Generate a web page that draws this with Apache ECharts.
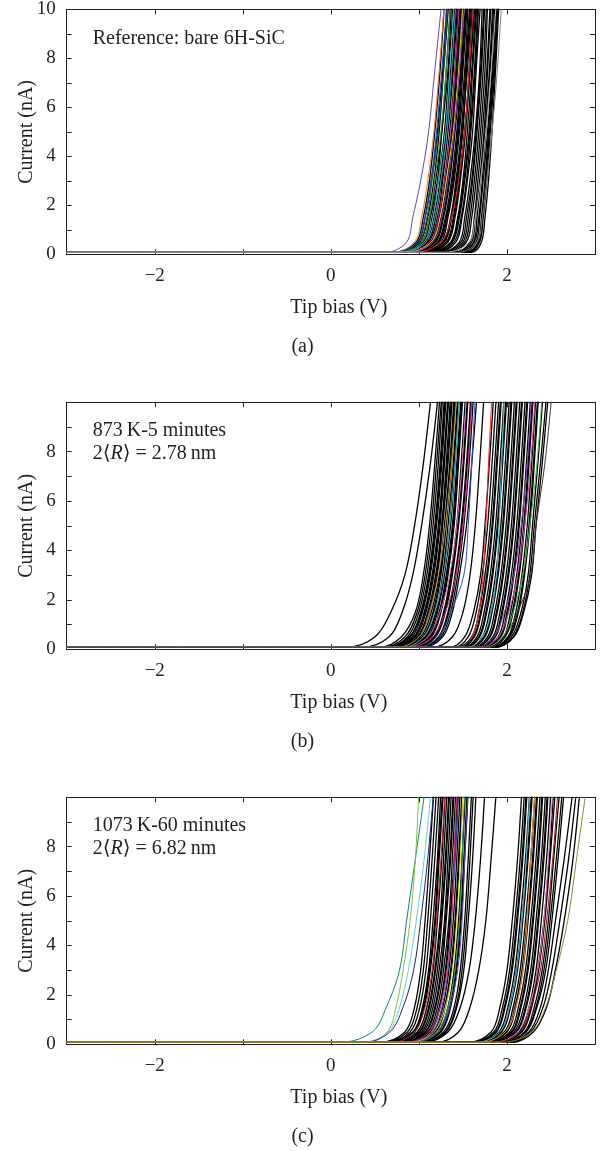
<!DOCTYPE html>
<html>
<head>
<meta charset="utf-8">
<script src="https://cdn.jsdelivr.net/npm/echarts@6/dist/echarts.min.js"></script>
<style>
  html, body { margin: 0; padding: 0; background: #fff; }
  #main { width: 605px; height: 1151px; }
</style>
</head>
<body>
<div id="main"></div>
<script>
const levels = [0.08, 0.5, 1.5, 3, 5, 7.5, 10.3]
const biasStart = -3
const xLabelValues = [-2, 0, 2]
const yLabelValues = [0, 2, 4, 6, 8, 10]

// panel (a): reference bare 6H-SiC
const aBlack = [
  [0.70, 0.97, 1.05, 1.12, 1.18, 1.24, 1.29],
  [0.73, 0.99, 1.07, 1.14, 1.21, 1.27, 1.32],
  [0.76, 1.01, 1.10, 1.17, 1.23, 1.28, 1.34],
  [0.75, 1.03, 1.12, 1.19, 1.26, 1.31, 1.36],
  [0.79, 1.05, 1.13, 1.21, 1.26, 1.33, 1.37],
  [0.81, 1.07, 1.15, 1.22, 1.29, 1.34, 1.39],
  [0.80, 1.08, 1.17, 1.24, 1.30, 1.36, 1.41],
  [0.83, 1.09, 1.18, 1.26, 1.31, 1.38, 1.42],
  [0.84, 1.10, 1.19, 1.25, 1.32, 1.37, 1.43],
  [0.86, 1.11, 1.21, 1.27, 1.33, 1.39, 1.44],
  [0.85, 1.13, 1.22, 1.29, 1.35, 1.41, 1.45],
  [0.89, 1.15, 1.23, 1.30, 1.37, 1.42, 1.47],
  [0.90, 1.16, 1.25, 1.32, 1.38, 1.43, 1.49],
  [0.91, 1.17, 1.26, 1.33, 1.39, 1.44, 1.48],
  [0.93, 1.18, 1.27, 1.34, 1.40, 1.45, 1.50],
  [0.92, 1.19, 1.28, 1.35, 1.41, 1.47, 1.51],
  [0.96, 1.21, 1.30, 1.37, 1.43, 1.48, 1.53],
  [0.97, 1.22, 1.31, 1.39, 1.44, 1.49, 1.54],
  [0.98, 1.23, 1.32, 1.38, 1.45, 1.50, 1.55],
  [1.00, 1.25, 1.33, 1.40, 1.46, 1.52, 1.56],
  [1.01, 1.27, 1.36, 1.42, 1.48, 1.53, 1.58],
  [1.03, 1.28, 1.37, 1.43, 1.50, 1.54, 1.59],
  [1.04, 1.29, 1.37, 1.44, 1.49, 1.55, 1.60],
  [1.06, 1.31, 1.39, 1.45, 1.52, 1.57, 1.61],
  [1.08, 1.32, 1.40, 1.46, 1.52, 1.58, 1.62],
  [1.09, 1.33, 1.41, 1.47, 1.53, 1.58, 1.64],
  [1.12, 1.36, 1.44, 1.50, 1.55, 1.60, 1.65],
  [1.13, 1.37, 1.45, 1.51, 1.57, 1.61, 1.66],
  [1.15, 1.38, 1.46, 1.52, 1.58, 1.63, 1.67],
  [1.18, 1.40, 1.48, 1.54, 1.59, 1.64, 1.68],
  [1.20, 1.42, 1.49, 1.55, 1.61, 1.65, 1.70],
  [1.24, 1.46, 1.52, 1.58, 1.64, 1.69, 1.72],
  [1.27, 1.48, 1.54, 1.60, 1.65, 1.70, 1.74],
  [1.30, 1.50, 1.56, 1.61, 1.66, 1.71, 1.75],
  [1.33, 1.52, 1.58, 1.63, 1.68, 1.73, 1.77],
  [1.35, 1.54, 1.60, 1.65, 1.70, 1.75, 1.78],
  [1.40, 1.58, 1.63, 1.67, 1.72, 1.77, 1.81],
  [1.42, 1.60, 1.64, 1.69, 1.74, 1.78, 1.82],
  [1.45, 1.62, 1.66, 1.70, 1.75, 1.80, 1.84],
  [1.48, 1.63, 1.68, 1.72, 1.76, 1.81, 1.85],
  [1.50, 1.65, 1.69, 1.73, 1.78, 1.83, 1.86],
  [1.53, 1.67, 1.71, 1.75, 1.79, 1.84, 1.88],
  [1.55, 1.68, 1.72, 1.76, 1.80, 1.85, 1.89],
  [1.57, 1.69, 1.73, 1.77, 1.81, 1.86, 1.90],
  [1.60, 1.71, 1.75, 1.79, 1.83, 1.87, 1.91]
]
const aColored = [
  [0.62, 0.86, 0.93, 1.02, 1.11, 1.18, 1.26],
  [0.70, 0.95, 1.03, 1.10, 1.17, 1.23, 1.29],
  [0.72, 0.98, 1.07, 1.14, 1.20, 1.26, 1.32],
  [0.75, 1.00, 1.09, 1.15, 1.22, 1.28, 1.33],
  [0.78, 1.03, 1.12, 1.18, 1.25, 1.31, 1.36],
  [0.80, 1.06, 1.16, 1.22, 1.30, 1.35, 1.40],
  [0.82, 1.08, 1.18, 1.25, 1.32, 1.37, 1.42],
  [0.85, 1.12, 1.22, 1.29, 1.36, 1.41, 1.46],
  [0.86, 1.14, 1.24, 1.31, 1.39, 1.45, 1.50],
  [0.88, 1.16, 1.26, 1.33, 1.40, 1.46, 1.52],
  [0.95, 1.25, 1.37, 1.45, 1.52, 1.57, 1.62],
  [1.30, 1.57, 1.64, 1.70, 1.76, 1.82, 1.88],
  [1.45, 1.66, 1.72, 1.77, 1.83, 1.89, 1.94]
]
const aColors = ['#6a3fb8', '#f07820', '#2a3fc0', '#0a5a3a', '#30a040', '#30c0d0',
  '#40a8b0', '#e0208f', '#e8e020', '#9040c0', '#ff2020', '#b8b8b8', '#808080']

// panel (b): 873 K, 5 minutes
const bBlack = [
  [0.17, 0.50, 0.68, 0.84, 0.95, 1.05, 1.14],
  [0.35, 0.66, 0.81, 0.93, 1.03, 1.13, 1.22],
  [0.55, 0.80, 0.96, 1.05, 1.12, 1.18, 1.24],
  [0.58, 0.84, 0.98, 1.07, 1.14, 1.20, 1.26],
  [0.62, 0.87, 1.00, 1.09, 1.16, 1.22, 1.27],
  [0.60, 0.89, 1.02, 1.11, 1.18, 1.24, 1.29],
  [0.64, 0.90, 1.03, 1.12, 1.19, 1.25, 1.30],
  [0.66, 0.92, 1.04, 1.13, 1.20, 1.26, 1.31],
  [0.68, 0.94, 1.06, 1.15, 1.22, 1.28, 1.33],
  [0.69, 0.95, 1.07, 1.16, 1.23, 1.28, 1.34],
  [0.70, 0.96, 1.08, 1.17, 1.24, 1.29, 1.34],
  [0.73, 0.98, 1.10, 1.19, 1.26, 1.31, 1.36],
  [0.74, 0.99, 1.11, 1.20, 1.26, 1.32, 1.37],
  [0.75, 1.00, 1.12, 1.21, 1.27, 1.33, 1.38],
  [0.77, 1.02, 1.14, 1.23, 1.29, 1.35, 1.40],
  [0.79, 1.04, 1.16, 1.24, 1.30, 1.36, 1.41],
  [0.80, 1.05, 1.17, 1.25, 1.31, 1.37, 1.42],
  [0.82, 1.07, 1.19, 1.27, 1.33, 1.39, 1.44],
  [0.84, 1.08, 1.20, 1.28, 1.35, 1.40, 1.45],
  [0.85, 1.10, 1.21, 1.29, 1.36, 1.41, 1.46],
  [0.88, 1.12, 1.23, 1.31, 1.38, 1.43, 1.48],
  [0.89, 1.13, 1.24, 1.32, 1.39, 1.44, 1.49],
  [0.90, 1.14, 1.25, 1.33, 1.40, 1.45, 1.50],
  [0.93, 1.17, 1.28, 1.36, 1.43, 1.48, 1.53],
  [0.94, 1.18, 1.29, 1.37, 1.44, 1.50, 1.55],
  [0.96, 1.19, 1.30, 1.38, 1.45, 1.51, 1.56],
  [0.99, 1.22, 1.33, 1.41, 1.48, 1.54, 1.59],
  [1.00, 1.23, 1.34, 1.42, 1.49, 1.55, 1.60],
  [1.02, 1.25, 1.36, 1.44, 1.51, 1.57, 1.62],
  [1.05, 1.27, 1.38, 1.46, 1.54, 1.60, 1.66],
  [1.15, 1.38, 1.50, 1.58, 1.64, 1.69, 1.74],
  [1.35, 1.52, 1.62, 1.70, 1.75, 1.80, 1.85],
  [1.40, 1.56, 1.65, 1.72, 1.78, 1.83, 1.88],
  [1.42, 1.60, 1.68, 1.75, 1.81, 1.86, 1.91],
  [1.45, 1.62, 1.70, 1.77, 1.83, 1.88, 1.93],
  [1.47, 1.63, 1.71, 1.78, 1.84, 1.89, 1.94],
  [1.50, 1.66, 1.74, 1.81, 1.87, 1.92, 1.97],
  [1.52, 1.68, 1.76, 1.83, 1.89, 1.94, 1.99],
  [1.53, 1.69, 1.77, 1.84, 1.90, 1.95, 2.00],
  [1.55, 1.72, 1.80, 1.87, 1.93, 1.98, 2.03],
  [1.57, 1.74, 1.82, 1.89, 1.95, 2.00, 2.05],
  [1.58, 1.75, 1.83, 1.90, 1.96, 2.01, 2.06],
  [1.61, 1.78, 1.86, 1.93, 1.99, 2.04, 2.09],
  [1.63, 1.80, 1.88, 1.95, 2.01, 2.06, 2.11],
  [1.64, 1.81, 1.89, 1.96, 2.02, 2.07, 2.12],
  [1.66, 1.84, 1.92, 1.99, 2.05, 2.10, 2.15],
  [1.68, 1.86, 1.94, 2.01, 2.07, 2.12, 2.17],
  [1.69, 1.87, 1.95, 2.02, 2.08, 2.13, 2.18],
  [1.72, 1.90, 1.98, 2.05, 2.11, 2.16, 2.21],
  [1.73, 1.92, 2.00, 2.07, 2.13, 2.18, 2.23],
  [1.74, 1.93, 2.01, 2.08, 2.14, 2.19, 2.24],
  [1.77, 1.96, 2.04, 2.11, 2.17, 2.22, 2.27],
  [1.78, 1.97, 2.06, 2.13, 2.19, 2.24, 2.29],
  [1.79, 1.98, 2.07, 2.14, 2.20, 2.25, 2.30],
  [1.81, 2.01, 2.10, 2.17, 2.23, 2.28, 2.33],
  [1.82, 2.02, 2.12, 2.19, 2.25, 2.30, 2.35],
  [1.83, 2.03, 2.13, 2.20, 2.26, 2.31, 2.36],
  [1.85, 2.05, 2.16, 2.24, 2.29, 2.35, 2.41],
  [1.86, 2.07, 2.18, 2.26, 2.31, 2.38, 2.45],
  [1.87, 2.08, 2.19, 2.28, 2.33, 2.40, 2.47]
]
const bColored = [
  [0.75, 1.00, 1.12, 1.22, 1.30, 1.37, 1.43],
  [0.82, 1.05, 1.18, 1.28, 1.35, 1.41, 1.46],
  [0.85, 1.10, 1.24, 1.35, 1.43, 1.49, 1.54],
  [0.90, 1.15, 1.30, 1.42, 1.50, 1.56, 1.60],
  [0.98, 1.22, 1.36, 1.51, 1.56, 1.60, 1.64],
  [1.45, 1.60, 1.68, 1.73, 1.76, 1.79, 1.83],
  [1.55, 1.72, 1.82, 1.88, 1.91, 1.94, 1.97],
  [1.65, 1.85, 1.97, 2.08, 2.16, 2.23, 2.28],
  [1.70, 1.90, 2.02, 2.12, 2.20, 2.27, 2.32],
  [1.75, 1.95, 2.07, 2.18, 2.26, 2.34, 2.40],
  [1.80, 1.97, 2.12, 2.27, 2.33, 2.43, 2.51]
]
const bColors = ['#d0a020', '#40c0d0', '#e060c0', '#e0208f', '#3050d0', '#ff2020',
  '#40c8e0', '#8040c0', '#d040a0', '#40c040', '#3a3a1a']

// panel (c): 1073 K, 60 minutes
const cBlack = [
  [0.55, 0.84, 0.95, 1.02, 1.07, 1.12, 1.17],
  [0.58, 0.87, 0.98, 1.05, 1.10, 1.15, 1.20],
  [0.62, 0.90, 1.01, 1.08, 1.13, 1.18, 1.23],
  [0.60, 0.93, 1.04, 1.11, 1.16, 1.21, 1.25],
  [0.64, 0.94, 1.05, 1.12, 1.18, 1.22, 1.27],
  [0.66, 0.95, 1.06, 1.13, 1.19, 1.23, 1.28],
  [0.68, 0.98, 1.09, 1.16, 1.21, 1.26, 1.30],
  [0.71, 1.00, 1.11, 1.18, 1.24, 1.28, 1.32],
  [0.72, 1.01, 1.12, 1.19, 1.25, 1.30, 1.34],
  [0.74, 1.03, 1.14, 1.21, 1.26, 1.31, 1.35],
  [0.77, 1.05, 1.16, 1.23, 1.29, 1.33, 1.37],
  [0.79, 1.07, 1.18, 1.25, 1.30, 1.35, 1.39],
  [0.80, 1.08, 1.19, 1.26, 1.31, 1.36, 1.40],
  [0.82, 1.10, 1.21, 1.28, 1.34, 1.38, 1.42],
  [0.84, 1.12, 1.23, 1.30, 1.35, 1.40, 1.44],
  [0.85, 1.13, 1.24, 1.31, 1.36, 1.41, 1.45],
  [0.88, 1.16, 1.27, 1.34, 1.39, 1.43, 1.47],
  [0.90, 1.18, 1.29, 1.36, 1.41, 1.45, 1.49],
  [0.91, 1.19, 1.30, 1.37, 1.42, 1.46, 1.50],
  [0.94, 1.22, 1.33, 1.40, 1.45, 1.49, 1.53],
  [0.96, 1.24, 1.35, 1.42, 1.47, 1.51, 1.55],
  [0.97, 1.25, 1.36, 1.43, 1.48, 1.52, 1.56],
  [1.00, 1.28, 1.40, 1.47, 1.52, 1.56, 1.60],
  [1.02, 1.30, 1.42, 1.49, 1.54, 1.58, 1.62],
  [1.03, 1.31, 1.43, 1.51, 1.56, 1.61, 1.65],
  [1.05, 1.33, 1.47, 1.57, 1.64, 1.70, 1.75],
  [1.20, 1.45, 1.58, 1.68, 1.76, 1.82, 1.88],
  [1.55, 1.82, 1.92, 2.00, 2.06, 2.12, 2.17],
  [1.58, 1.85, 1.95, 2.03, 2.09, 2.15, 2.20],
  [1.60, 1.87, 1.97, 2.05, 2.11, 2.17, 2.22],
  [1.62, 1.88, 1.98, 2.06, 2.12, 2.18, 2.23],
  [1.65, 1.91, 2.01, 2.09, 2.15, 2.21, 2.26],
  [1.67, 1.93, 2.03, 2.11, 2.17, 2.23, 2.28],
  [1.68, 1.94, 2.04, 2.12, 2.18, 2.24, 2.29],
  [1.70, 1.97, 2.07, 2.15, 2.21, 2.27, 2.32],
  [1.72, 1.99, 2.09, 2.17, 2.23, 2.29, 2.34],
  [1.73, 2.00, 2.10, 2.18, 2.24, 2.30, 2.35],
  [1.76, 2.03, 2.13, 2.21, 2.27, 2.33, 2.38],
  [1.78, 2.05, 2.15, 2.23, 2.29, 2.35, 2.40],
  [1.79, 2.06, 2.16, 2.24, 2.30, 2.36, 2.41],
  [1.82, 2.08, 2.19, 2.27, 2.33, 2.39, 2.44],
  [1.84, 2.10, 2.21, 2.29, 2.35, 2.41, 2.46],
  [1.85, 2.11, 2.22, 2.30, 2.36, 2.42, 2.47],
  [1.88, 2.14, 2.25, 2.33, 2.39, 2.45, 2.50],
  [1.89, 2.16, 2.27, 2.35, 2.42, 2.48, 2.53],
  [1.90, 2.17, 2.28, 2.36, 2.43, 2.49, 2.55],
  [1.93, 2.20, 2.31, 2.40, 2.47, 2.53, 2.60],
  [1.95, 2.21, 2.33, 2.42, 2.49, 2.56, 2.63],
  [1.96, 2.22, 2.34, 2.44, 2.51, 2.58, 2.65],
  [2.00, 2.25, 2.38, 2.47, 2.55, 2.65, 2.75],
  [2.02, 2.27, 2.41, 2.51, 2.60, 2.70, 2.79],
  [2.05, 2.30, 2.45, 2.55, 2.65, 2.75, 2.83]
]
const cColored = [
  [0.10, 0.47, 0.63, 0.78, 0.86, 0.96, 1.07],
  [0.40, 0.64, 0.74, 0.82, 0.90, 0.96, 1.00],
  [0.35, 0.65, 0.78, 0.88, 0.97, 1.06, 1.14],
  [0.38, 0.67, 0.82, 0.94, 1.02, 1.10, 1.17],
  [0.70, 0.95, 1.07, 1.15, 1.20, 1.25, 1.30],
  [0.88, 1.15, 1.26, 1.33, 1.37, 1.41, 1.45],
  [0.85, 1.12, 1.24, 1.32, 1.37, 1.40, 1.43],
  [0.90, 1.17, 1.30, 1.38, 1.43, 1.47, 1.50],
  [0.92, 1.20, 1.33, 1.41, 1.46, 1.49, 1.52],
  [0.95, 1.22, 1.35, 1.44, 1.49, 1.52, 1.56],
  [1.65, 1.92, 2.03, 2.11, 2.17, 2.22, 2.26],
  [1.70, 1.98, 2.10, 2.18, 2.23, 2.27, 2.32],
  [1.85, 2.12, 2.25, 2.35, 2.42, 2.47, 2.52],
  [1.85, 2.15, 2.27, 2.38, 2.45, 2.52, 2.58],
  [1.95, 2.28, 2.44, 2.56, 2.69, 2.79, 2.90]
]
const cColors = ['#108080', '#80c040', '#60d0e0', '#202080', '#d02030', '#3050c0',
  '#f02080', '#f0e020', '#20a060', '#6040c0', '#40c0e0', '#f09020', '#e070c0',
  '#a01010', '#8c8c30']

const panels = [
  { black: aBlack, colored: aColored, colors: aColors, top: 7.3, showTen: true,
    note: ['Reference: bare 6H-SiC'], caption: '(a)' },
  { black: bBlack, colored: bColored, colors: bColors, top: 402.3, showTen: false,
    note: ['873\u2009K-5 minutes', '2\u27e8{i|R}\u27e9 = 2.78\u2009nm'], caption: '(b)' },
  { black: cBlack, colored: cColored, colors: cColors, top: 797.3, showTen: false,
    note: ['1073\u2009K-60 minutes', '2\u27e8{i|R}\u27e9 = 6.82\u2009nm'], caption: '(c)' }
]

const serif = '"Liberation Serif", "DejaVu Serif", serif'
const ink = '#231f20'
const plotH = 247

function toPoints(volts) {
  const pts = [[biasStart, levels[0]]]
  volts.forEach((v, i) => pts.push([v, levels[i]]))
  return pts
}

function lineSeries(volts, color, idx, width) {
  return {
    type: 'line',
    xAxisIndex: idx * 2,
    yAxisIndex: idx * 2,
    data: toPoints(volts),
    showSymbol: false,
    symbol: 'none',
    smooth: 0.35,
    silent: true,
    animation: false,
    lineStyle: { width: width, color: color }
  }
}

const frame = { show: true, onZero: false, lineStyle: { color: ink, width: 1 } }
const ticks = { show: true, inside: true, length: 5, lineStyle: { color: ink, width: 1 } }

const grid = []
const xAxis = []
const yAxis = []
const series = []
const graphic = []

panels.forEach((p, i) => {
  grid.push({ left: 66.7, right: 10, top: p.top, height: plotH })
  const xBase = {
    type: 'value', gridIndex: i, min: -3, max: 3, interval: 1,
    axisLine: frame, axisTick: ticks, splitLine: { show: false }
  }
  xAxis.push(Object.assign({}, xBase, {
    position: 'bottom',
    name: 'Tip bias (V)', nameLocation: 'middle', nameGap: 43, nameMoveOverlap: false,
    nameTextStyle: { fontFamily: serif, fontSize: 20, color: ink, padding: [0, 0, 0, 16] },
    axisLabel: {
      margin: 12, fontFamily: serif, fontSize: 19, color: ink,
      formatter: v => xLabelValues.includes(v) ? (v < 0 ? '\u2212' + (-v) : String(v)) : ''
    }
  }))
  xAxis.push(Object.assign({}, xBase, { position: 'top', axisLabel: { show: false } }))
  const yBase = {
    type: 'value', gridIndex: i, min: 0, max: 10, interval: 1,
    axisLine: frame, axisTick: ticks, splitLine: { show: false }
  }
  yAxis.push(Object.assign({}, yBase, {
    position: 'left',
    name: 'Current (nA)', nameLocation: 'middle', nameGap: 30, nameMoveOverlap: false,
    nameTextStyle: { fontFamily: serif, fontSize: 20, color: ink },
    axisLabel: {
      margin: 11, fontFamily: serif, fontSize: 19, color: ink,
      formatter: v => (yLabelValues.includes(v) && (p.showTen || v < 10)) ? String(v) : ''
    }
  }))
  yAxis.push(Object.assign({}, yBase, { position: 'right', axisLabel: { show: false } }))

  p.black.forEach(v => series.push(lineSeries(v, '#000000', i, 1.3)))
  p.colored.forEach((v, k) => series.push(lineSeries(v, p.colors[k], i, 1)))

  p.note.forEach((t, k) => {
    graphic.push({
      type: 'text', left: 92.7, top: p.top + (i === 0 ? 31 : 28) + k * 23.5 - 10,
      style: {
        text: t, fontFamily: serif, fontSize: 20, fill: ink,
        rich: { i: { fontFamily: serif, fontSize: 20, fontStyle: 'italic', fill: ink } }
      }
    })
  })
  graphic.push({
    type: 'text', x: 302.5, y: p.top + plotH + 92,
    style: { text: p.caption, fontFamily: serif, fontSize: 20, fill: ink, align: 'center', verticalAlign: 'middle' }
  })
})

const chart = echarts.init(document.getElementById('main'), null, { renderer: 'canvas' })
chart.setOption({
  animation: false,
  backgroundColor: '#ffffff',
  grid: grid,
  xAxis: xAxis,
  yAxis: yAxis,
  series: series,
  graphic: graphic
})
</script>
</body>
</html>
